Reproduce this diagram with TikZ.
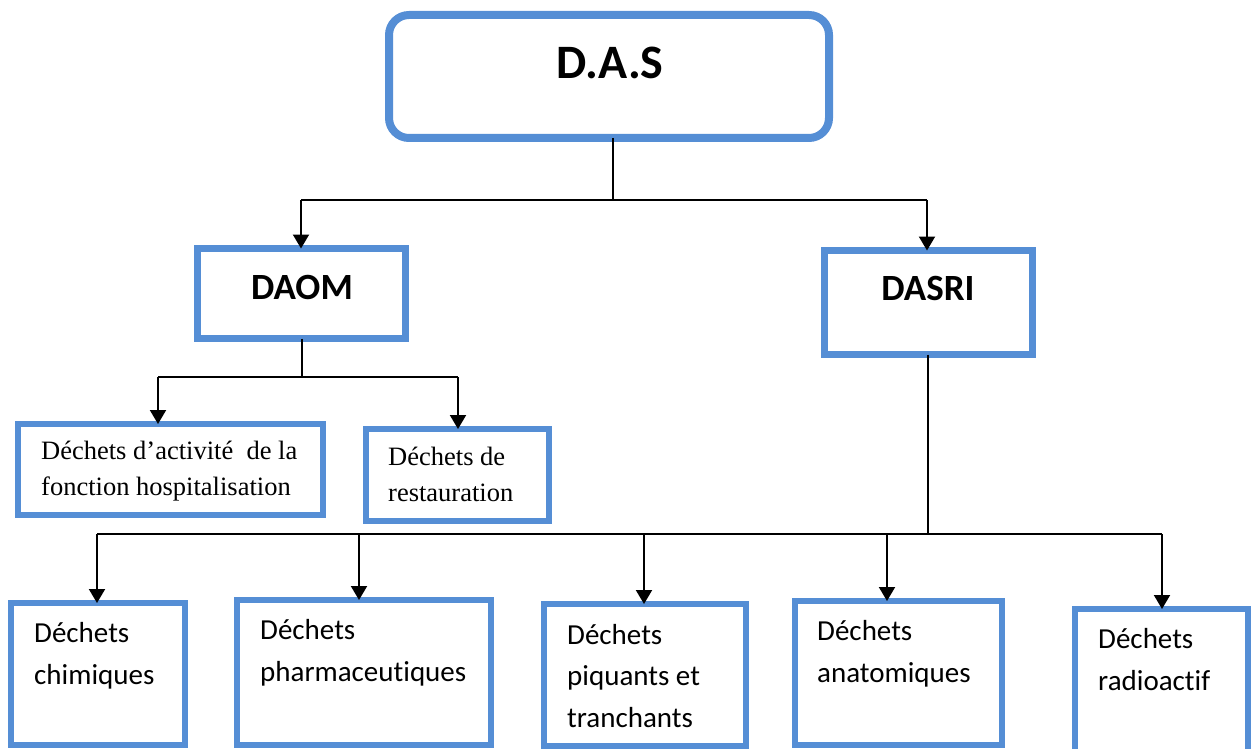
\documentclass[tikz,border=0pt]{standalone}
\usepackage{fontspec}
\newfontfamily\calfont[Ligatures=NoCommon]{Carlito}
\newfontfamily\timesfont{Liberation Serif}
\usetikzlibrary{arrows.meta}
\definecolor{boxblue}{RGB}{85,142,213}
\tikzset{
  box/.style={draw=boxblue, line width=7pt, fill=white, inner sep=0pt, outer sep=0pt},
  thinbox/.style={box, line width=6pt},
  conn/.style={line width=2pt, black},
  arr/.style={conn, -{Triangle[width=16pt,length=14pt]}},
  bigtitle/.style={font=\calfont\bfseries\fontsize{48}{56}\selectfont, anchor=base, inner sep=0pt},
  midtitle/.style={font=\calfont\bfseries\fontsize{37}{44}\selectfont, anchor=base, inner sep=0pt},
  serifttext/.style={font=\timesfont\fontsize{26.5}{36}\selectfont, anchor=base west, align=left, inner sep=0pt},
  sanstext/.style={font=\calfont\fontsize{29}{41.5}\selectfont, anchor=base west, align=left, inner sep=0pt}
}
\begin{document}
\begin{tikzpicture}[x=1pt, y=-1pt]
\useasboundingbox (0,0) rectangle (1254,749);

% boxes
\node[box, line width=8pt, rounded corners=20pt, minimum width=440pt, minimum height=123pt] (das) at (609,76.5) {};
\node[box, minimum width=208pt, minimum height=90pt] (daom) at (301.5,293.5) {};
\node[box, minimum width=208pt, minimum height=104pt] (dasri) at (928.5,302.5) {};
\node[thinbox, minimum width=305pt, minimum height=91pt] (hosp) at (170.5,469.5) {};
\node[thinbox, minimum width=183pt, minimum height=92pt] (rest) at (457.5,475) {};
\node[thinbox, minimum width=174pt, minimum height=142pt] (chim) at (98,674) {};
\node[thinbox, minimum width=254pt, minimum height=145pt] (pharm) at (364,672.5) {};
\node[thinbox, minimum width=202pt, minimum height=142pt] (piq) at (645,675) {};
\node[thinbox, minimum width=207pt, minimum height=144pt] (anat) at (898.5,673) {};
\node[thinbox, minimum width=173pt, minimum height=143pt] (radio) at (1161.5,680.5) {};

% texts (multi-line nodes: base = baseline of last line)
\node[bigtitle] (tdas) at (610,79) {D.A.S};
\node[midtitle] (tdaom) at (302,299) {DAOM};
\node[midtitle] (tdasri) at (928,300) {DASRI};
\node[serifttext] (thosp) at (41,495) {Déchets d’activité~ de la\\fonction hospitalisation};
\node[serifttext] (trest) at (388,501) {Déchets de\\restauration};
\node[sanstext] (tchim) at (34,684) {Déchets\\chimiques};
\node[sanstext] (tpharm) at (260,681) {Déchets\\pharmaceutiques};
\node[sanstext] (tpiq) at (567,727) {Déchets\\piquants et\\tranchants};
\node[sanstext] (tanat) at (817,682) {Déchets\\anatomiques};
\node[sanstext] (tradio) at (1098,690) {Déchets\\radioactif};

% junction points
\coordinate (j1) at (613,200);
\coordinate (j1l) at (301,200);
\coordinate (j1r) at (927,200);
\coordinate (j2) at (302,377);
\coordinate (j2l) at (158,377);
\coordinate (j2r) at (458,377);
\coordinate (j3) at (928,534);
\coordinate (j3a) at (97,534);
\coordinate (j3b) at (359,534);
\coordinate (j3c) at (644,534);
\coordinate (j3d) at (887,534);
\coordinate (j3e) at (1162,534);

% connectors level 1
\draw[conn] (j1 |- das.south) -- (j1);
\draw[conn] (j1l) -- (j1r);
\draw[arr] (j1l) -- (j1l |- daom.north);
\draw[arr] (j1r) -- (j1r |- dasri.north);

% connectors DAOM
\draw[conn] (j2 |- daom.south) -- (j2);
\draw[conn] (j2l) -- (j2r);
\draw[arr] (j2l) -- (j2l |- hosp.north);
\draw[arr] (j2r) -- (j2r |- rest.north);

% connectors DASRI
\draw[conn] (j3 |- dasri.south) -- (j3);
\draw[conn] (j3a) -- (j3e);
\draw[arr] (j3a) -- (j3a |- chim.north);
\draw[arr] (j3b) -- (j3b |- pharm.north);
\draw[arr] (j3c) -- (j3c |- piq.north);
\draw[arr] (j3d) -- (j3d |- anat.north);
\draw[arr] (j3e) -- (j3e |- radio.north);
\end{tikzpicture}
\end{document}
